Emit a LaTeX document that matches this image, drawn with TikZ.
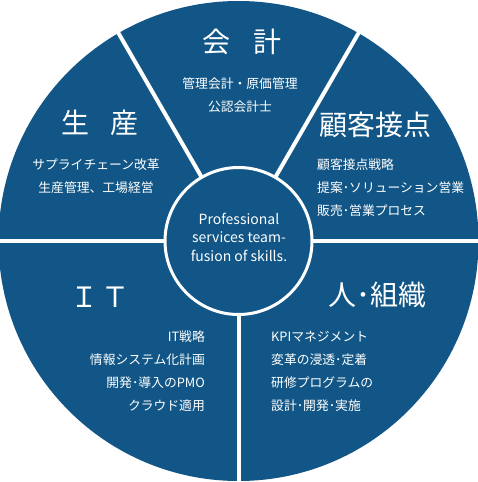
\documentclass[tikz,border=0pt]{standalone}
\usepackage{fontspec}
\setmainfont{Noto Sans CJK JP}
\usetikzlibrary{calc}
\definecolor{wheelblue}{RGB}{17,86,134}

\begin{document}
\begin{tikzpicture}[x=1pt, y=-1pt,
    title/.style={text=white, inner sep=0, font=\fontsize{28}{30}\selectfont},
    entry/.style={text=white, inner sep=0, font=\fontsize{12.8}{14}\selectfont}]
  \useasboundingbox (0,0) rectangle (477,482);
  \coordinate (O) at (238.5,241);
  \fill[wheelblue] (O) circle [radius=240pt];
  \foreach \a in {0,90,180,240,300}
    \draw[white, line width=4] ($(O)+(\a:70)$) -- ($(O)+(\a:250)$);
  \node[circle, fill=wheelblue, draw=white, line width=3, minimum size=147, inner sep=0] (core) at (O) {};
  \node[text=white, align=center, inner sep=0, font=\fontsize{14}{18.5}\selectfont] (motto) at (239,237)
    {Professional\\services team-\\fusion of skills.};

  \node[title] (accounting) at (242,42) {会\hspace{.8em}計};
  \node[title] (production) at (100,123) {生\hspace{.75em}産};
  \node[title] (customer) at (375,125) {顧客接点};
  \node[title] (it) at (100,297) {Ｉ\hspace{.1em}Ｔ};
  \node[title] (people) at (377,295) {人･組織};

  \node[entry] (acc1) at (240,84) {管理会計・原価管理};
  \node[entry] (acc2) at (240,107) {公認会計士};
  \foreach \line [count=\i] in {サプライチェーン改革, 生産管理、工場経営}
    \node[entry] (prod\i) at (96, {142+23*\i}) {\line};
  \foreach \line [count=\i] in {顧客接点戦略, 提案･ソリューション営業, 販売･営業プロセス}
    \node[entry, anchor=west] (cust\i) at (317, {142+23*\i}) {\line};
  \foreach \line [count=\i] in {IT戦略, 情報システム化計画, 開発･導入のPMO, クラウド適用}
    \node[entry, anchor=east] (it\i) at (205, {314+23*\i}) {\line};
  \foreach \line [count=\i] in {KPIマネジメント, 変革の浸透･定着, 研修プログラムの, 設計･開発･実施}
    \node[entry, anchor=west] (ppl\i) at (271, {314+23*\i}) {\line};
\end{tikzpicture}
\end{document}
